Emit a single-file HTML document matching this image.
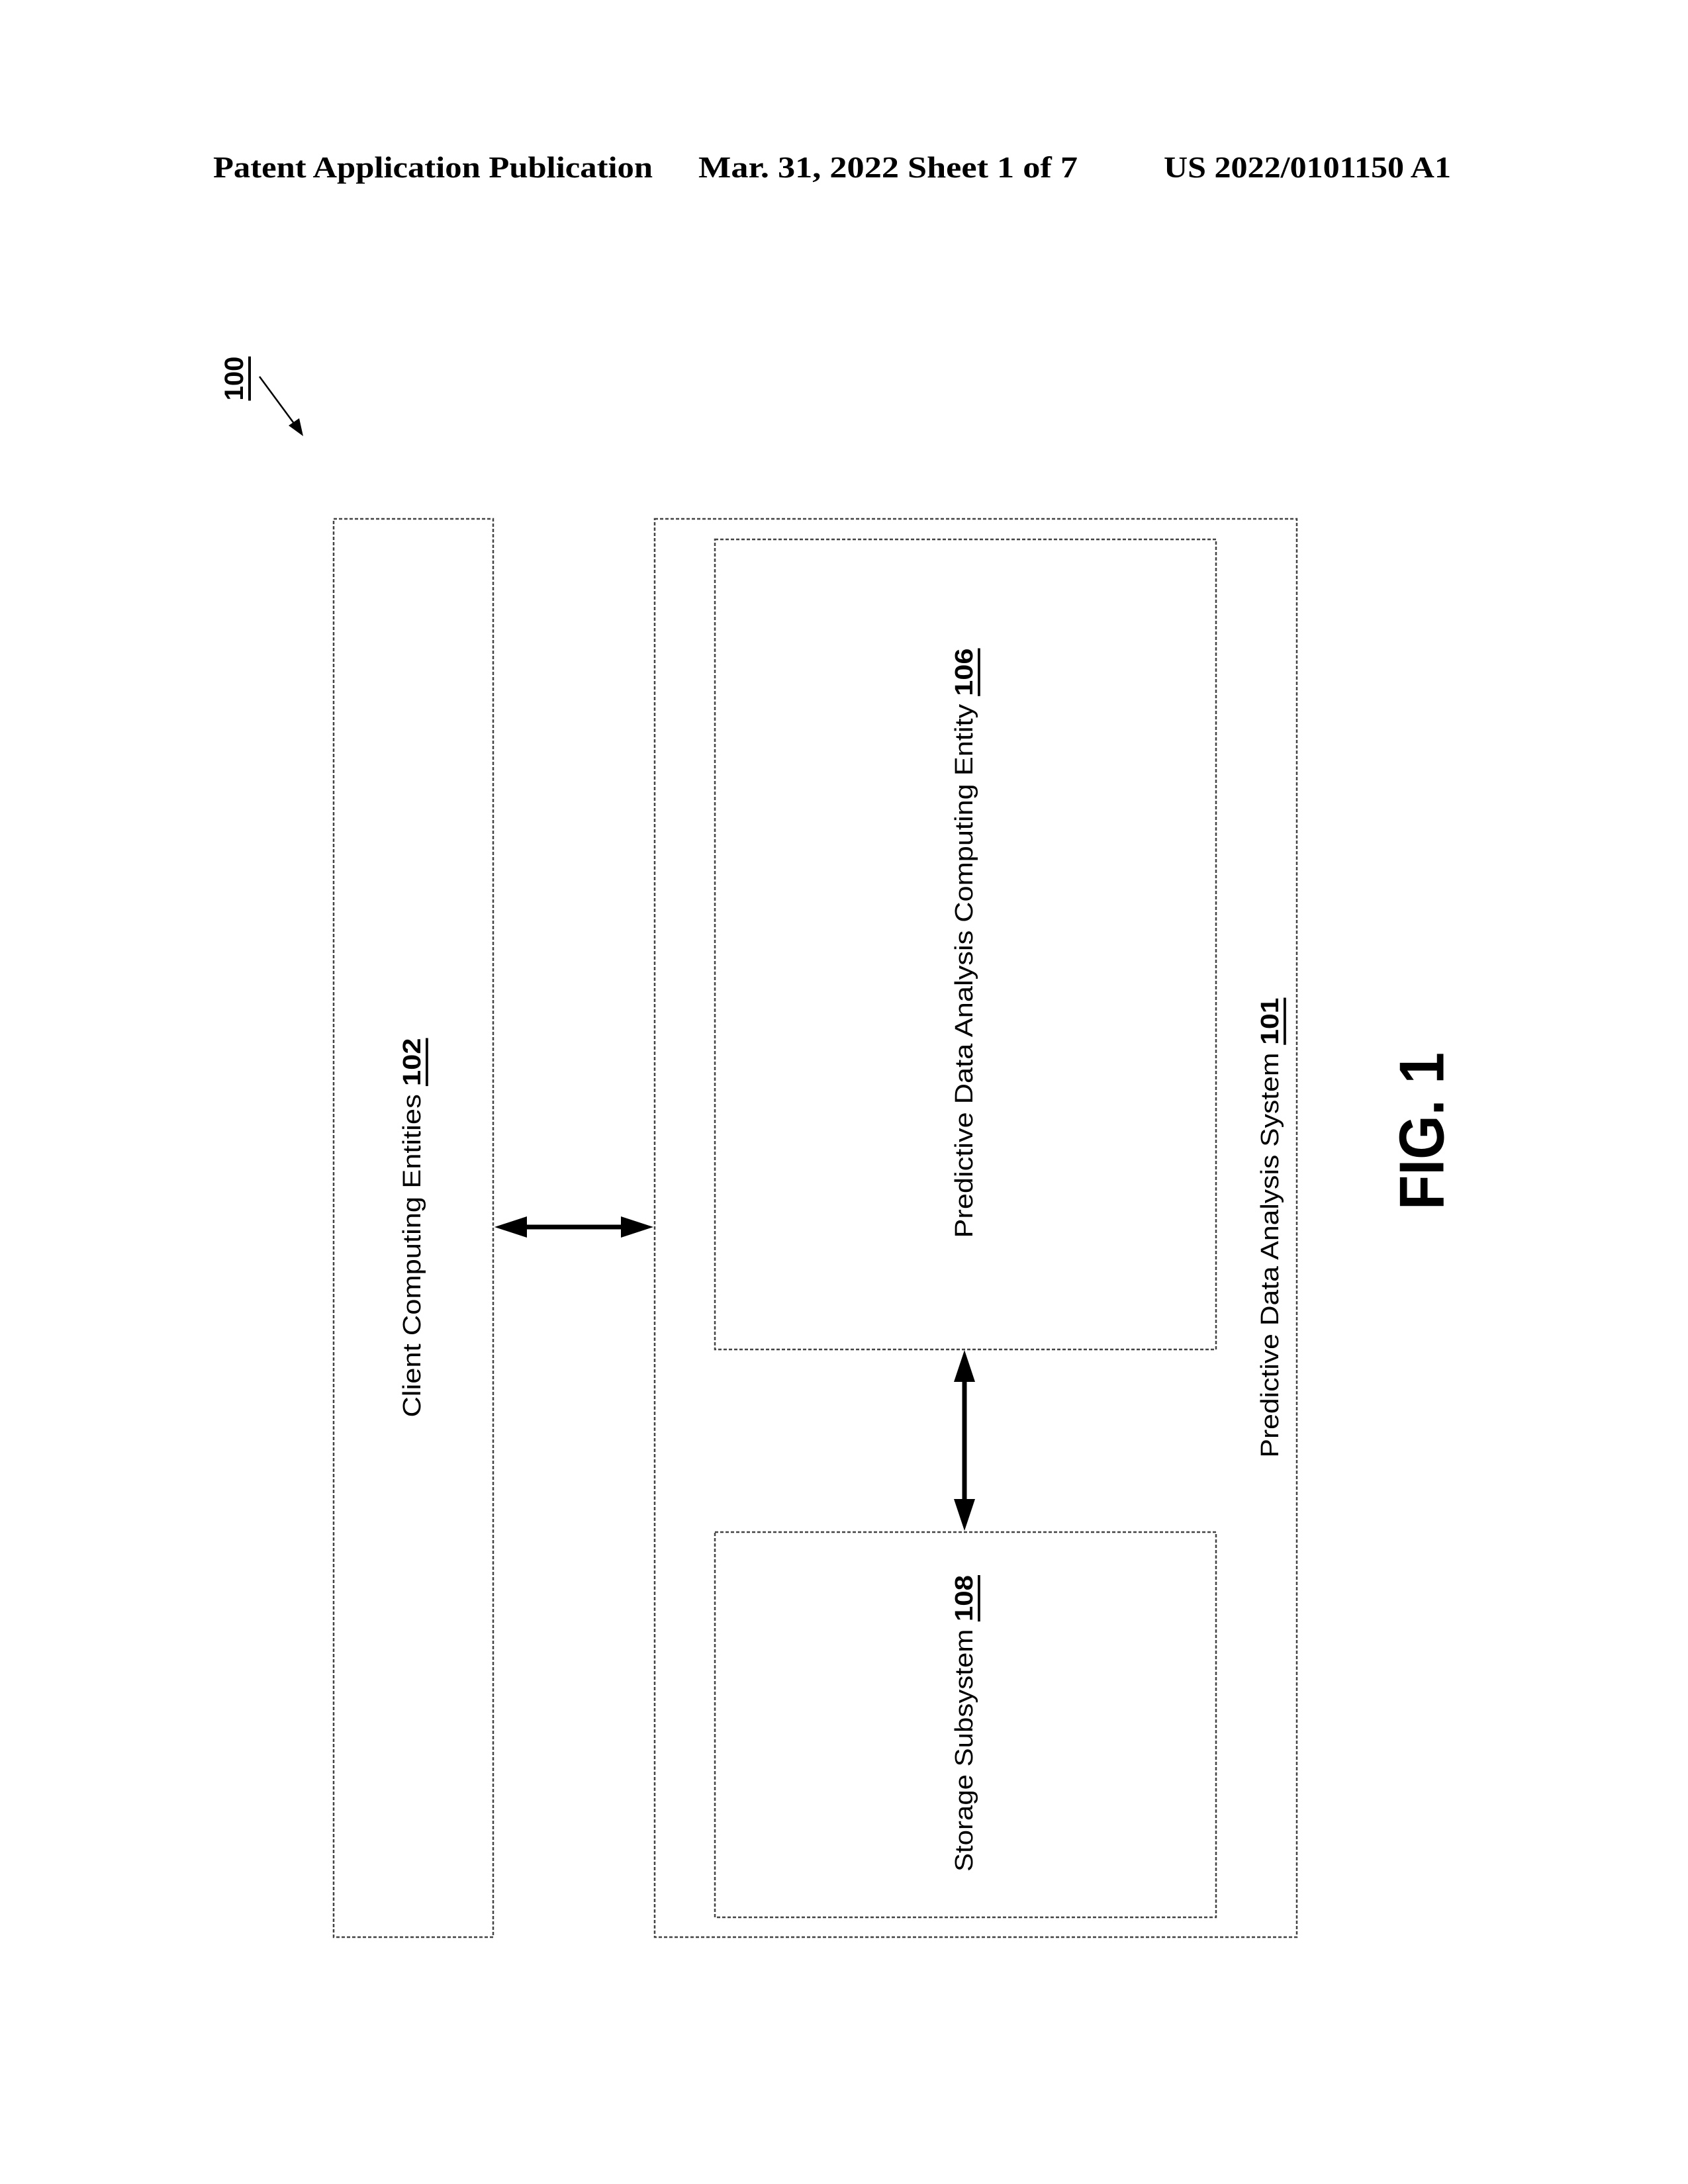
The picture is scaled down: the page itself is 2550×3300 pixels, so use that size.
<!DOCTYPE html>
<html><head><meta charset="utf-8"><style>html,body{margin:0;padding:0;background:#fff}svg{display:block}</style></head>
<body>
<svg xmlns="http://www.w3.org/2000/svg" width="2550" height="3300" viewBox="0 0 2550 3300">
<rect width="2550" height="3300" fill="#fff"/>
<g font-family="Liberation Serif, serif" font-weight="bold" font-size="46" fill="#000">
<text x="322" y="268" textLength="664" lengthAdjust="spacingAndGlyphs">Patent Application Publication</text>
<text x="1055" y="268" textLength="573" lengthAdjust="spacingAndGlyphs">Mar. 31, 2022  Sheet 1 of 7</text>
<text x="1758" y="268" textLength="434" lengthAdjust="spacingAndGlyphs">US 2022/0101150 A1</text>
</g>
<defs>
<marker id="ah" markerWidth="10" markerHeight="10" refX="9" refY="5" orient="auto" markerUnits="userSpaceOnUse"></marker>
</defs>
<g fill="none" stroke="#444" stroke-width="2.5" stroke-dasharray="5 3">
<rect x="504" y="784" width="241" height="2143"/>
<rect x="989" y="784" width="970" height="2143"/>
<rect x="1080" y="815" width="757" height="1224"/>
<rect x="1080" y="2315" width="757" height="582"/>
</g>
<!-- horizontal arrow -->
<line x1="790" y1="1854" x2="945" y2="1854" stroke="#000" stroke-width="7"/>
<polygon points="747,1854 796,1838 796,1870" fill="#000"/>
<polygon points="987,1854 938,1838 938,1870" fill="#000"/>
<!-- vertical arrow -->
<line x1="1457" y1="2080" x2="1457" y2="2275" stroke="#000" stroke-width="7"/>
<polygon points="1457,2040 1441,2088 1473,2088" fill="#000"/>
<polygon points="1457,2313 1441,2265 1473,2265" fill="#000"/>
<!-- 100 ref -->
<text transform="translate(354,572) rotate(-90)" text-anchor="middle" dominant-baseline="central" font-family="Liberation Sans, sans-serif" font-weight="bold" font-size="40" text-decoration="underline">100</text>
<line x1="392" y1="569" x2="448" y2="645" stroke="#000" stroke-width="2.5"/>
<polygon points="458,659 436,643 452,632" fill="#000"/>
<g font-family="Liberation Sans, sans-serif" font-size="38" fill="#000" text-anchor="middle" dominant-baseline="central">
<text transform="translate(623,1855) rotate(-90)" textLength="573" lengthAdjust="spacingAndGlyphs">Client Computing Entities <tspan font-weight="bold" text-decoration="underline">102</tspan></text>
<text transform="translate(1457,1425) rotate(-90)" textLength="891" lengthAdjust="spacingAndGlyphs">Predictive Data Analysis Computing Entity <tspan font-weight="bold" text-decoration="underline">106</tspan></text>
<text transform="translate(1919,1855) rotate(-90)" textLength="695" lengthAdjust="spacingAndGlyphs">Predictive Data Analysis System <tspan font-weight="bold" text-decoration="underline">101</tspan></text>
<text transform="translate(1457,2604) rotate(-90)" textLength="448" lengthAdjust="spacingAndGlyphs">Storage Subsystem <tspan font-weight="bold" text-decoration="underline">108</tspan></text>
</g>
<text transform="translate(2148,1709) rotate(-90)" text-anchor="middle" dominant-baseline="central" font-family="Liberation Sans, sans-serif" font-weight="bold" font-size="96" textLength="238" lengthAdjust="spacingAndGlyphs">FIG. 1</text>
</svg>
</body></html>
